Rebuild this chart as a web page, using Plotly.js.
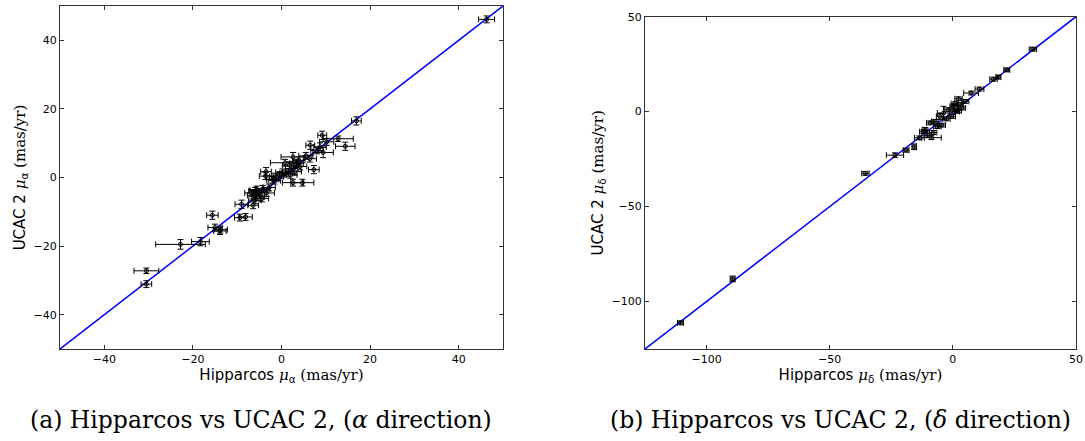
<!DOCTYPE html>
<html>
<head>
<meta charset="utf-8">
<script src="https://cdn.plot.ly/plotly-3.0.1.min.js"></script>
<style>
  html, body { margin: 0; padding: 0; background: #fff; }
  #chart { width: 1085px; height: 441px; }
</style>
</head>
<body>
<div id="chart"></div>
<script>
// Proper motions in right ascension (mas/yr): Hipparcos vs UCAC 2
const alphaHip = [46.3, 16.9, 12.8, 14.4, 9.2, 6.5, 9.4, 8.7, 10.2, 7.3, 2.6, 4.7, 6.4, 2.6, 0.8, 3.4, 2.3, 3.0, 1.1, -0.4,
  -1.1, -3.5, -3.6, -5.6, -6.8, -4.9, -3.4, -5.3, -6.0, -6.4, -9.0, -9.4, -8.1, -15.6, -15.0, -13.8, -13.9, -18.3, -22.8, -30.5,
  -30.5, 4.2, 1.8, 3.9, 0.2, -2.0, -4.2, -5.9, -6.3, -4.4, -2.8, 5.5, 8.0, 2.0, -1.6];
const alphaUcac = [46.1, 16.5, 11.3, 9.1, 12.3, 9.4, 7.3, 8.9, 10.4, 2.3, -1.5, -1.5, 5.5, 6.0, 4.3, 4.1, 2.6, 1.7, 1.2, 0.7,
  0.2, 1.7, 0.4, -3.7, -4.5, -4.2, -4.5, -5.6, -6.6, -8.1, -7.8, -11.7, -11.5, -11.0, -14.6, -15.2, -15.6, -18.7, -19.5, -27.2,
  -31.1, 3.2, 3.6, 5.0, 1.5, -0.6, -3.3, -3.9, -5.2, -6.1, -2.9, 6.3, 7.9, 0.8, -0.9];
const alphaHipErr = [1.8, 1.1, 3.4, 2.2, 1.0, 1.0, 2.3, 1.4, 1.6, 1.2, 2.4, 2.6, 1.5, 2.7, 3.3, 1.6, 1.4, 1.5, 1.5, 1.5,
  1.6, 1.2, 1.4, 1.5, 1.5, 1.6, 1.8, 1.5, 1.4, 1.2, 1.5, 1.2, 1.5, 1.3, 1.6, 1.6, 1.4, 2.0, 5.6, 2.8,
  1.2, 1.5, 1.6, 1.4, 1.5, 1.4, 1.6, 1.5, 1.4, 1.5, 1.4, 1.6, 1.4, 1.5, 1.4];
const alphaUcacErr = [1.0, 1.2, 0.8, 1.2, 1.2, 1.2, 1.5, 1.2, 1.0, 1.2, 1.0, 1.0, 1.0, 1.3, 1.0, 1.2, 1.0, 1.0, 1.0, 1.0,
  1.0, 1.2, 1.0, 1.2, 1.0, 1.0, 1.0, 1.2, 1.0, 1.0, 1.2, 1.0, 1.0, 1.2, 1.0, 1.0, 1.0, 1.2, 1.4, 0.8,
  1.0, 1.0, 1.0, 1.0, 1.0, 1.0, 1.0, 1.0, 1.0, 1.0, 1.0, 1.0, 1.0, 1.0, 1.0];

// Proper motions in declination (mas/yr): Hipparcos vs UCAC 2
const deltaHip = [-110.6, -89.4, -35.5, -23.5, -19.0, -15.7, -13.6, -11.3, -9.2, -7.2, -8.0, -8.7, -5.2, -3.8, -1.8, 0.3, 2.3, 3.0, 3.7, 5.0,
  7.4, 10.8, 16.5, 18.5, 21.9, 32.5, -0.4, 1.2, -2.6, -6.3, -10.2, 0.8, 2.0, -4.5, -12.0];
const deltaUcac = [-111.2, -88.1, -32.5, -22.9, -20.3, -18.5, -13.8, -9.8, -5.9, -5.1, -11.0, -13.7, -2.5, -0.7, 1.0, 2.8, 6.8, 3.7, 1.9, 5.4,
  9.8, 11.9, 17.1, 18.2, 22.0, 32.9, -2.5, 0.1, -3.8, -7.9, -12.5, 4.2, 0.5, -7.1, -10.6];
const deltaHipErr = [1.2, 1.0, 1.5, 3.5, 1.2, 0.9, 2.0, 1.2, 1.5, 1.5, 1.5, 4.0, 1.5, 2.5, 1.5, 1.5, 1.5, 1.2, 1.5, 1.5,
  3.0, 1.8, 1.5, 1.0, 1.2, 1.5, 1.5, 1.5, 1.5, 1.5, 1.5, 1.5, 1.5, 1.5, 1.5];
const deltaUcacErr = [1.0, 1.5, 1.0, 1.2, 1.0, 1.5, 1.0, 1.5, 1.0, 1.0, 1.0, 1.0, 1.5, 3.5, 1.0, 1.0, 1.0, 1.0, 1.0, 1.0,
  1.0, 1.0, 1.0, 1.0, 1.0, 1.0, 1.0, 1.0, 1.0, 1.0, 1.0, 1.0, 1.0, 1.0, 1.0];

// One-to-one reference lines
const lineAlpha = [-50, 50];
const lineDelta = [-125, 50];

const serif = "'DejaVu Serif', 'Liberation Serif', serif";
const sans = "'DejaVu Sans', sans-serif";

function points(x, y, ex, ey, xa, ya) {
  return {
    type: 'scatter', mode: 'markers', x: x, y: y, xaxis: xa, yaxis: ya,
    marker: { symbol: 'circle-open', size: 4, color: '#000', line: { width: 1, color: '#000' } },
    error_x: { type: 'data', array: ex, visible: true, color: '#000', thickness: 1, width: 3 },
    error_y: { type: 'data', array: ey, visible: true, color: '#000', thickness: 1, width: 3 },
    hoverinfo: 'skip', showlegend: false
  };
}
function diag(v, xa, ya) {
  return {
    type: 'scatter', mode: 'lines', x: v, y: v, xaxis: xa, yaxis: ya,
    line: { color: '#0000ff', width: 1.5 }, hoverinfo: 'skip', showlegend: false
  };
}

const axisBase = {
  showline: true, mirror: 'ticks', linecolor: '#333', linewidth: 1,
  ticks: 'inside', ticklen: 4, tickwidth: 1, tickcolor: '#333',
  showgrid: false, zeroline: false,
  tickfont: { family: sans, size: 11, color: '#000' }
};
const H = 441, W = 1085;

const unit = "<span style=\"font-family:DejaVu Serif\">(mas/yr)</span>";
const mu = "<span style=\"font-family:DejaVu Serif;font-style:italic\">μ</span>";
const titleFont = { family: sans, size: 15, color: '#000' };

const layout = {
  width: W, height: H,
  margin: { l: 0, r: 0, t: 0, b: 0 },
  paper_bgcolor: '#fff', plot_bgcolor: '#fff',
  font: { family: sans, color: '#000' },
  xaxis: Object.assign({}, axisBase, {
    domain: [60 / W, 503 / W], range: [-50, 50], tickvals: [-40, -20, 0, 20, 40],
    anchor: 'y',
    title: { text: 'Hipparcos ' + mu + '<sub>α</sub> ' + unit, font: titleFont, standoff: 2 }
  }),
  yaxis: Object.assign({}, axisBase, {
    domain: [1 - 349 / H, 1 - 6 / H], range: [-50, 50], tickvals: [-40, -20, 0, 20, 40],
    anchor: 'x',
    title: { text: 'UCAC 2 ' + mu + '<sub>α</sub> ' + unit, font: titleFont, standoff: 4 }
  }),
  xaxis2: Object.assign({}, axisBase, {
    domain: [645 / W, 1076 / W], range: [-125, 50], tickvals: [-100, -50, 0, 50],
    anchor: 'y2',
    title: { text: 'Hipparcos ' + mu + '<sub>δ</sub> ' + unit, font: titleFont, standoff: 2 }
  }),
  yaxis2: Object.assign({}, axisBase, {
    domain: [1 - 349 / H, 1 - 16.7 / H], range: [-125, 50], tickvals: [-100, -50, 0, 50],
    anchor: 'x2',
    title: { text: 'UCAC 2 ' + mu + '<sub>δ</sub> ' + unit, font: titleFont, standoff: 4 }
  }),
  annotations: [
    { text: '(a) Hipparcos vs UCAC 2, (<i>α</i> direction)', xref: 'paper', yref: 'paper',
      x: 261 / W, y: 1 - 420 / H, showarrow: false, xanchor: 'center', yanchor: 'middle',
      font: { family: serif, size: 23.5, color: '#000' } },
    { text: '(b) Hipparcos vs UCAC 2, (<i>δ</i> direction)', xref: 'paper', yref: 'paper',
      x: 840 / W, y: 1 - 420 / H, showarrow: false, xanchor: 'center', yanchor: 'middle',
      font: { family: serif, size: 23.5, color: '#000' } }
  ]
};

const data = [
  diag(lineAlpha, 'x', 'y'),
  points(alphaHip, alphaUcac, alphaHipErr, alphaUcacErr, 'x', 'y'),
  diag(lineDelta, 'x2', 'y2'),
  points(deltaHip, deltaUcac, deltaHipErr, deltaUcacErr, 'x2', 'y2')
];

Plotly.newPlot('chart', data, layout, { staticPlot: true, displayModeBar: false });
</script>
</body>
</html>
